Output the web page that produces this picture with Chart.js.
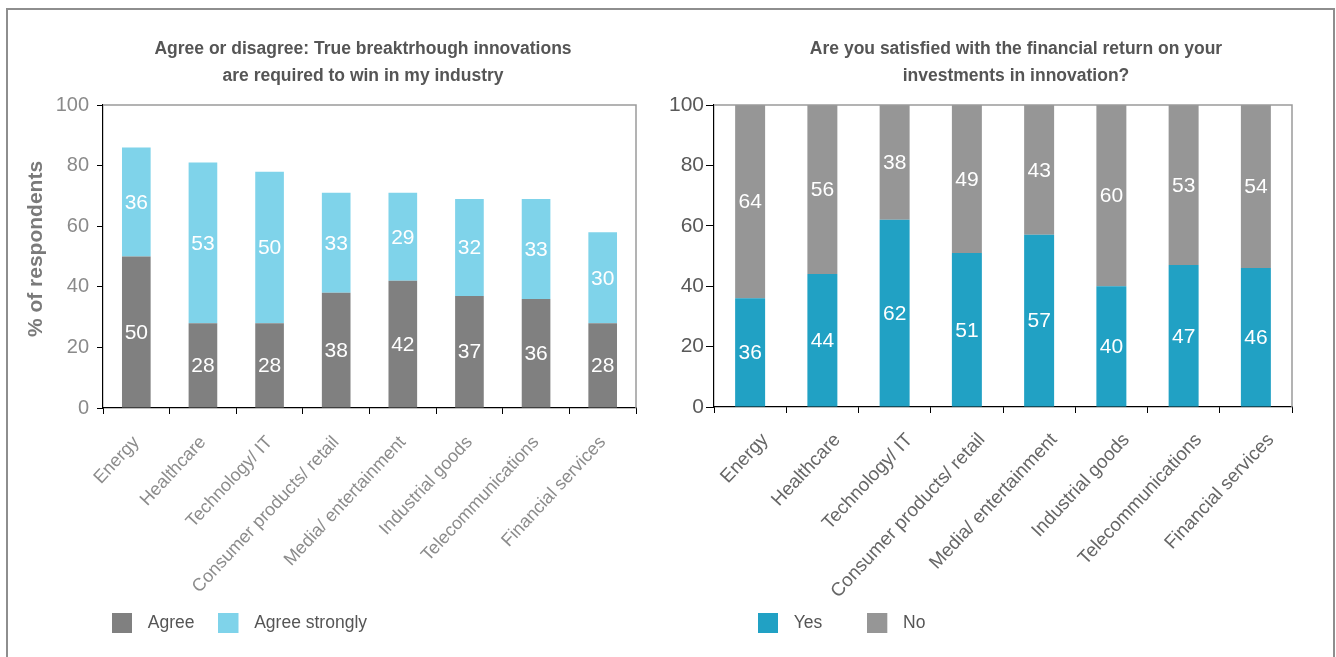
<!DOCTYPE html>
<html><head><meta charset="utf-8">
<script src="https://cdn.jsdelivr.net/npm/chart.js@4.4.1/dist/chart.umd.min.js"></script>
<style>
html,body{margin:0;padding:0;background:#fff;width:1336px;height:657px;overflow:hidden;}
#frame{position:absolute;left:6px;top:8px;width:1329px;height:700px;border:2px solid #8e8e8e;box-sizing:border-box;}
canvas{position:absolute;}
#c1{left:8px;top:10px;width:660px;height:680px;}
#c2{left:660px;top:10px;width:672px;height:680px;}
</style></head><body>
<div id="frame"></div>
<canvas id="c1" width="660" height="680"></canvas>
<canvas id="c2" width="672" height="680"></canvas>
<script>
const categories = ['Energy','Healthcare','Technology/ IT','Consumer products/ retail','Media/ entertainment','Industrial goods','Telecommunications','Financial services'];
const agree = [50,28,28,38,42,37,36,28];
const agreeStrongly = [36,53,50,33,29,32,33,30];
const yes = [36,44,62,51,57,40,47,46];
const no = [64,56,38,49,43,60,53,54];
const yTicks = [0,20,40,60,80,100];
const title1 = ['Agree or disagree: True breaktrhough innovations','are required to win in my industry'];
const title2 = ['Are you satisfied with the financial return on your','investments in innovation?'];
const yTitle1 = '% of respondents';

const SANS = '"Liberation Sans", Arial, sans-serif';
const NARROW = '"Liberation Sans Narrow", "Arial Narrow", "Liberation Sans", sans-serif';

function swatch(color){
  const c = document.createElement('canvas');
  c.width = 27; c.height = 20;
  const g = c.getContext('2d');
  g.fillStyle = color; g.fillRect(0,0,20,20);
  return c;
}

const panelText = {
  id:'panelText',
  afterDraw(chart, args, o){
    const ctx = chart.ctx; ctx.save();
    ctx.textAlign='center'; ctx.textBaseline='middle';
    ctx.fillStyle = o.color; ctx.font = o.font;
    o.lines.forEach((t,i)=>ctx.fillText(t, o.x, o.y + i*o.lh));
    if (o.yTitle){
      ctx.translate(o.yTitle.x, o.yTitle.y); ctx.rotate(-Math.PI/2);
      ctx.font = o.yTitle.font; ctx.fillStyle = o.yTitle.color;
      ctx.fillText(o.yTitle.text,0,0);
    }
    ctx.restore();
  }
};
const plotFrame = {
  id:'plotFrame',
  afterDatasetsDraw(chart, args, o){
    const {left,top,right,bottom} = chart.chartArea;
    const ctx = chart.ctx; ctx.save();
    ctx.strokeStyle = o.color; ctx.lineWidth = 1.5;
    ctx.beginPath(); ctx.moveTo(left, top); ctx.lineTo(right, top); ctx.lineTo(right, bottom); ctx.stroke();
    ctx.restore();
  }
};
const barValues = {
  id:'barValues',
  afterDatasetsDraw(chart, args, o){
    const ctx = chart.ctx; ctx.save();
    ctx.fillStyle = '#ffffff'; ctx.font = o.font; ctx.textAlign='center'; ctx.textBaseline='middle';
    chart.data.datasets.forEach((ds,i)=>{
      chart.getDatasetMeta(i).data.forEach((bar,j)=>{
        const p = bar.getCenterPoint();
        ctx.fillText(String(ds.data[j]), p.x, p.y + 1);
      });
    });
    ctx.restore();
  }
};
const legendShift = {
  id:'legendShift',
  afterLayout(chart, args, o){
    const lg = chart.legend;
    if (lg) { lg.left += o.dx; lg.right += o.dx; lg.top += o.dy; lg.bottom += o.dy; }
  }
};

function makeChart(el, cfg){
  return new Chart(el, {
    type:'bar',
    data:{ labels:categories, datasets:cfg.datasets.map(d=>({label:d.label, data:d.data, backgroundColor:d.color, borderWidth:0, categoryPercentage:1, barPercentage:cfg.barPct})) },
    options:{
      responsive:false, animation:false,
      layout:{ padding:{ left:cfg.pl, right:cfg.pr, top:95, bottom:cfg.pb } },
      scales:{
        x:{ stacked:true,
            grid:{ display:true, drawOnChartArea:false, drawTicks:true, tickLength:6, color:'#000', offset:true },
            border:{ display:true, color:'#000', width:1.2 },
            ticks:{ minRotation:47, maxRotation:47, padding:cfg.xPad, labelOffset:cfg.xOff, color:cfg.xColor, font:{ family:SANS, size:cfg.xSize }, autoSkip:false },
            afterFit:s=>{ s.height = 200; } },
        y:{ stacked:true, min:0, max:100,
            afterBuildTicks:s=>{ s.ticks = yTicks.map(v=>({value:v})); },
            grid:{ display:true, drawOnChartArea:false, drawTicks:true, tickLength:cfg.yTickLen, color:'#000' },
            border:{ display:true, color:'#000', width:1.2 },
            ticks:{ padding:cfg.yPad, color:cfg.yColor, font:{ family:SANS, size:cfg.ySize } },
            afterFit:s=>{ s.width = cfg.yW; } }
      },
      plugins:{
        title:{ display:false }, tooltip:{ enabled:false },
        legend:{ position:'bottom', align:'start',
          labels:{ usePointStyle:true, pointStyleWidth:27, padding:cfg.legPad, color:'#555', font:{ family:SANS, size:17.5 },
            generateLabels(chart){
              const items = Chart.defaults.plugins.legend.labels.generateLabels(chart);
              items.forEach((it,i)=>{ it.pointStyle = swatch(chart.data.datasets[i].backgroundColor); });
              return items;
            } } },
        panelText: cfg.text,
        plotFrame: { color:'#9a9a9a' },
        barValues: { font:'21px ' + SANS },
        legendShift: { dx: cfg.legDx, dy: cfg.legDy }
      }
    },
    plugins:[panelText, plotFrame, barValues, legendShift]
  });
}

makeChart(document.getElementById('c1'), {
  datasets:[ {label:'Agree', data:agree, color:'#808080'}, {label:'Agree strongly', data:agreeStrongly, color:'#7fd3ea'} ],
  barPct:0.43, pl:20, pr:32, pb:30.5, yW:75, legPad:24, legDx:60, legDy:-17.75, yTickLen:6, yPad:8,
  xColor:'#8c8c8c', xSize:18, xOff:0, xPad:18, yColor:'#8a8a8a', ySize:20,
  text:{ lines:title1, x:355, y:39, lh:27, color:'#555555', font:'bold 17.5px ' + NARROW,
         yTitle:{ text:yTitle1, x:28, y:239, font:'bold 21px ' + SANS, color:'#7a7a7a' } }
});
makeChart(document.getElementById('c2'), {
  datasets:[ {label:'Yes', data:yes, color:'#21a1c4'}, {label:'No', data:no, color:'#969696'} ],
  barPct:0.415, pl:0, pr:40, pb:10.5, yW:54, legPad:45, legDx:53, legDy:-37.75, yTickLen:8, yPad:2,
  xColor:'#666666', xSize:18.9, xOff:15, xPad:16, yColor:'#595959', ySize:21,
  text:{ lines:title2, x:356, y:39, lh:27, color:'#555555', font:'bold 17.5px ' + NARROW }
});
</script>
</body></html>
